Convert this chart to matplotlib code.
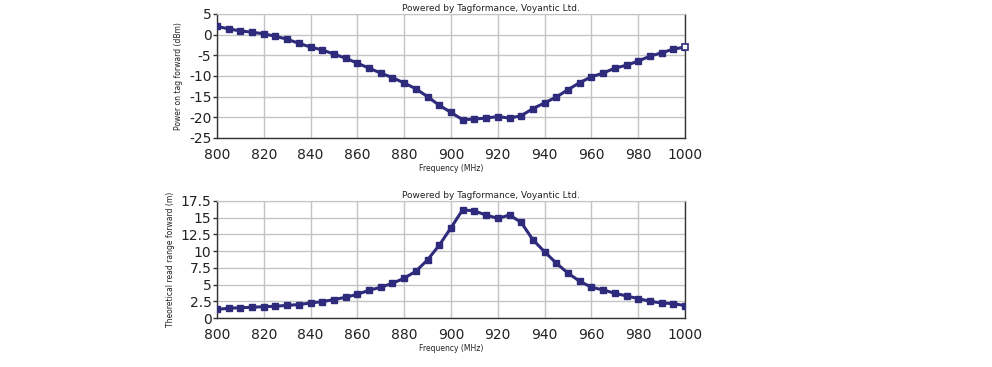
import numpy as np
import matplotlib
matplotlib.use("Agg")
import matplotlib.pyplot as plt

freq = np.arange(800, 1001, 5)

power_fwd = [2.0, 1.4, 0.9, 0.6, 0.2, -0.4, -1.1, -2.1, -3.0, -3.7,
             -4.7, -5.7, -6.9, -8.1, -9.3, -10.4, -11.7, -13.1, -15.0, -17.1,
             -18.8, -20.6, -20.4, -20.2, -19.8, -20.2, -19.6, -17.9, -16.5, -15.1,
             -13.3, -11.6, -10.2, -9.3, -8.1, -7.4, -6.4, -5.2, -4.4, -3.5, -3.0]

read_range = [1.3, 1.45, 1.55, 1.6, 1.7, 1.75, 1.9, 2.0, 2.25, 2.45,
              2.75, 3.1, 3.55, 4.15, 4.6, 5.2, 5.95, 7.0, 8.7, 10.9,
              13.5, 16.2, 16.0, 15.4, 14.9, 15.4, 14.3, 11.7, 9.9, 8.2,
              6.7, 5.5, 4.6, 4.2, 3.7, 3.3, 2.9, 2.5, 2.25, 2.15, 1.85]

x_ticks = list(range(800, 1001, 20))
LINE = "#2f2b7c"
GRID = "#c4c4c4"
W, H = 992, 367

fig = plt.figure(figsize=(W / 100, H / 100), dpi=100)
fig.patch.set_facecolor("white")

# axes boxes in pixels: left, right, top, bottom
boxes = [(217, 685, 14, 138), (217, 685, 201, 318)]
axes = []
for l, r, t, b in boxes:
    axes.append(fig.add_axes([l / W, 1 - b / H, (r - l) / W, (b - t) / H]))
ax1, ax2 = axes


def style(ax, ylim, yticks, ylabel):
    ax.set_xlim(800, 1000)
    ax.set_ylim(*ylim)
    ax.set_xticks(x_ticks)
    ax.set_yticks(yticks)
    ax.set_yticklabels([f"{t:g}" for t in yticks])
    ax.grid(True, color=GRID, linewidth=1.0)
    ax.set_axisbelow(True)
    ax.tick_params(axis="y", direction="out", length=3, width=1, labelsize=10, pad=1,
                   color="#333333", labelcolor="#222222")
    ax.tick_params(axis="x", length=0, labelsize=10, pad=7, labelcolor="#222222")
    for s in ["left", "bottom", "right"]:
        ax.spines[s].set_color("#333333")
        ax.spines[s].set_linewidth(1.0)
    ax.spines["top"].set_color(GRID)
    ax.set_xlabel("Frequency (MHz)", fontsize=5.5, labelpad=1.5, color="#222222")
    ax.set_ylabel(ylabel, fontsize=5.5, labelpad=4, color="#222222")
    ax.text(0.585, 1.005, "Powered by Tagformance, Voyantic Ltd.", transform=ax.transAxes,
            fontsize=6.5, ha="center", va="bottom", color="#222222")


ax1.plot(freq, power_fwd, color=LINE, linewidth=2.2, marker="s", markersize=4.5, zorder=3)
ax1.plot(freq[-1], power_fwd[-1], marker="s", markersize=4.5, color=LINE,
         markerfacecolor="white", markeredgewidth=1.2, zorder=4, clip_on=False)
style(ax1, (-25, 5), [5, 0, -5, -10, -15, -20, -25], "Power on tag forward (dBm)")

ax2.plot(freq, read_range, color=LINE, linewidth=2.2, marker="s", markersize=4.5, zorder=3)
style(ax2, (0, 17.5), [0, 2.5, 5, 7.5, 10, 12.5, 15, 17.5], "Theoretical read range forward (m)")

fig.savefig("out.png", dpi=100, facecolor="white")
